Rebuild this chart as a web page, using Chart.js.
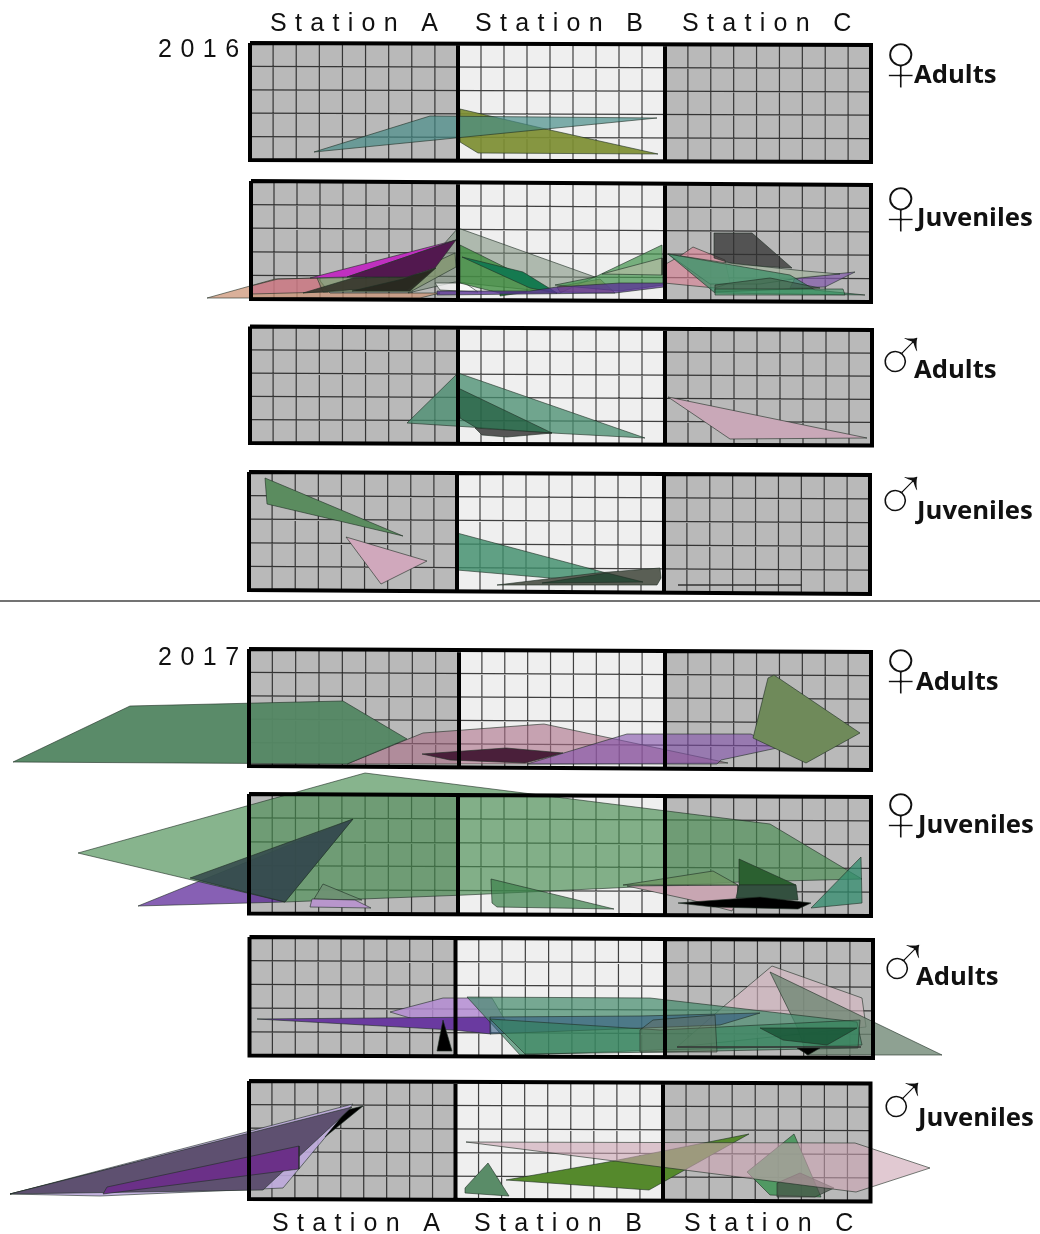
<!DOCTYPE html>
<html>
<head>
<meta charset="utf-8">
<title>Stations 2016 2017</title>
<script src="https://cdn.jsdelivr.net/npm/chart.js@4/dist/chart.umd.min.js"></script>
<style>
  html, body { margin: 0; padding: 0; background: #ffffff; }
  canvas { display: block; filter: blur(0.4px); }
</style>
</head>
<body>
<canvas id="figure" width="1040" height="1234"></canvas>
<script>
const stationLabels = ["Station A", "Station B", "Station C"];
const yearLabels = ["2016", "2017"];
const groupLabels = ["Adults", "Juveniles", "Adults", "Juveniles", "Adults", "Juveniles", "Adults", "Juveniles"];
const sexSymbols = ["♀", "♀", "♂", "♂", "♀", "♀", "♂", "♂"];

// Panel frames in figure units, the scan is slightly rotated so left and right differ.
const panelLeft = [250, 251, 250, 249, 249, 249, 249.5, 249];
const panelRight = [871, 871, 872, 870, 871, 871, 873, 870.5];
const dividerAB = [458, 458, 458, 457, 459, 458, 455.5, 455.5];
const dividerBC = [665, 665, 665, 664, 665, 665, 665, 663];
const topAtLeft = [43, 181, 326.5, 472, 649, 794, 937, 1081];
const topAtRight = [45, 185, 330, 475, 652, 797, 940, 1083.5];
const bottomAtLeft = [160, 299, 443, 590, 766, 913.5, 1055.5, 1199];
const bottomAtRight = [162, 302, 445.5, 594, 770, 916, 1058, 1201.5];

const f16Adults = [
  [[460, 109], [550, 130], [658, 154], [478, 153], [460, 142]],
  [[314, 152], [430, 116], [657, 118]],
];
const f16AdultsColors = ["rgba(125,142,50,0.92)", "rgba(70,140,135,0.68)"];

const f16Juveniles = [
  [[207, 298], [275, 279], [318, 278], [330, 293], [440, 293], [420, 298]],
  [[251, 286], [278, 279], [318, 278], [328, 292], [251, 294]],
  [[408, 293], [443, 245], [458, 228], [595, 277], [560, 293], [455, 282]],
  [[435, 283], [465, 283], [478, 292], [440, 290]],
  [[317, 278], [403, 277], [455, 253], [456, 267], [410, 292], [323, 292]],
  [[303, 293], [353, 278], [400, 277], [430, 272], [407, 290], [350, 290]],
  [[352, 291], [403, 279], [436, 268], [410, 291]],
  [[310, 278], [456, 240], [347, 277]],
  [[347, 277], [456, 240], [435, 268], [407, 277]],
  [[460, 245], [557, 293], [500, 293], [483, 289], [460, 283]],
  [[462, 257], [523, 272], [557, 293], [530, 288]],
  [[500, 293], [527, 292], [500, 296]],
  [[557, 287], [600, 279], [615, 293], [560, 292]],
  [[555, 285], [595, 277], [662, 245], [663, 285], [620, 291]],
  [[602, 274], [662, 258], [662, 275]],
  [[437, 291], [530, 291], [557, 287], [620, 283], [665, 283], [664, 287], [615, 293], [437, 295]],
  [[664, 265], [680, 256], [693, 247], [725, 260], [730, 283], [715, 288], [664, 283]],
  [[714, 233], [752, 233], [792, 268], [737, 265], [714, 258]],
  [[795, 278], [855, 272], [825, 287], [790, 288]],
  [[668, 254], [720, 262], [805, 271], [840, 274], [800, 278], [760, 284], [710, 284]],
  [[668, 254], [790, 275], [815, 290], [865, 295], [715, 293]],
  [[715, 285], [770, 278], [820, 288], [715, 292]],
  [[715, 289], [843, 289], [845, 295], [715, 295]],
];
const f16JuvenilesColors = [
  "rgba(205,150,120,0.75)", "rgba(200,100,140,0.5)", "rgba(120,140,120,0.55)", "rgba(255,255,255,0.7)",
  "rgba(130,150,110,0.75)", "rgba(55,55,45,0.92)", "rgba(40,40,32,0.95)", "#c030c0", "#52184f",
  "rgba(60,140,60,0.78)", "#157a50", "#1e8a30", "rgba(190,130,70,0.6)",
  "rgba(70,150,80,0.72)", "rgba(190,190,170,0.6)", "rgba(90,50,150,0.78)", "rgba(220,130,150,0.62)",
  "rgba(50,50,50,0.75)", "rgba(130,90,170,0.72)", "rgba(165,180,160,0.78)", "rgba(55,140,100,0.72)",
  "rgba(60,80,60,0.5)", "rgba(60,150,100,0.6)",
];

const m16Adults = [
  [[407, 423], [458, 373], [645, 438], [552, 433], [470, 427]],
  [[458, 388], [552, 433], [480, 430], [460, 418]],
  [[475, 428], [552, 433], [507, 437], [482, 435]],
  [[668, 397], [867, 438], [730, 439]],
];
const m16AdultsColors = ["rgba(70,140,110,0.75)", "rgba(30,90,60,0.7)", "#555555", "#c9a8b8"];

const m16Juveniles = [
  [[265, 478], [403, 536], [267, 504]],
  [[346, 537], [427, 561], [381, 584]],
  [[457, 533], [640, 582], [550, 578], [457, 570]],
  [[497, 585], [597, 573], [660, 568], [661, 578], [657, 585]],
  [[542, 583], [607, 573], [643, 582]],
];
const m16JuvenilesColors = ["#5b8c5f", "#d0a8bc", "rgba(60,140,105,0.8)", "#5a5f55", "#2c4a38"];
const m16JuvenilesLine = [[678, 585], [802, 585]];

const f17Adults = [
  [[347, 764], [423, 733], [544, 724], [728, 763], [529, 764]],
  [[422, 754], [506, 748], [563, 753], [525, 763], [450, 760]],
  [[527, 764], [627, 734], [751, 734], [777, 748], [721, 760], [717, 764]],
  [[13, 762], [130, 706], [343, 701], [407, 739], [347, 764]],
  [[774, 675], [860, 733], [806, 763], [753, 738], [768, 678]],
];
const f17AdultsColors = [
  "rgba(170,110,135,0.6)", "#4a1f3a", "rgba(130,80,170,0.6)", "rgba(85,135,100,0.97)", "#6f8a5a",
];

const f17Juveniles = [
  [[138, 906], [353, 819], [285, 902]],
  [[78, 853], [365, 773], [770, 824], [862, 879], [740, 882], [465, 895], [285, 902]],
  [[190, 878], [353, 819], [285, 902]],
  [[323, 884], [362, 900], [314, 899]],
  [[312, 899], [355, 900], [371, 908], [310, 907]],
  [[491, 879], [614, 909], [497, 907], [492, 903]],
  [[627, 886], [738, 885], [738, 898], [732, 911], [691, 900]],
  [[623, 885], [713, 871], [738, 885]],
  [[739, 859], [796, 885], [739, 885]],
  [[739, 885], [796, 885], [798, 900], [736, 898]],
  [[678, 903], [760, 897], [811, 903], [798, 909], [713, 907]],
  [[861, 857], [862, 903], [811, 908]],
];
const f17JuvenilesColors = [
  "rgba(70,10,140,0.65)", "rgba(70,140,80,0.65)", "rgba(50,70,75,0.85)", "rgba(110,145,115,0.9)", "#b896cc",
  "rgba(60,130,75,0.7)", "#c8a6b2", "rgba(110,150,100,0.85)", "#2b6030", "#33503f", "#000000",
  "rgba(50,140,110,0.75)",
];

const m17Adults = [
  [[390, 1012], [443, 998], [492, 998], [505, 1020], [440, 1027]],
  [[257, 1019], [490, 1017], [491, 1034], [453, 1030]],
  [[443, 1020], [452, 1051], [437, 1051]],
  [[772, 966], [862, 998], [866, 1027], [677, 1047], [723, 1007]],
  [[770, 972], [942, 1055], [807, 1055], [797, 1027]],
  [[467, 997], [650, 998], [857, 1022], [862, 1045], [660, 1050], [520, 1055]],
  [[490, 1017], [640, 1016], [760, 1013], [720, 1025], [490, 1034]],
  [[490, 1019], [660, 1030], [860, 1020], [858, 1048], [665, 1052], [525, 1054]],
  [[640, 1030], [653, 1020], [715, 1015], [717, 1052], [640, 1052]],
  [[760, 1028], [857, 1028], [827, 1045], [783, 1040]],
  [[797, 1048], [820, 1048], [808, 1055]],
];
const m17AdultsColors = [
  "rgba(180,140,210,0.85)", "#6a3aa0", "#000000", "rgba(215,185,195,0.65)", "rgba(110,135,115,0.78)",
  "rgba(70,140,110,0.72)", "rgba(50,90,130,0.6)", "rgba(50,130,90,0.6)", "rgba(110,110,90,0.35)",
  "rgba(20,80,50,0.75)", "#000000",
];
const m17AdultsLine = [[677, 1047], [861, 1047]];

const m17Juveniles = [
  [[10, 1194], [353, 1104], [283, 1188], [100, 1196]],
  [[10, 1194], [363, 1106], [325, 1137], [347, 1110]],
  [[10, 1194], [352, 1107], [263, 1190]],
  [[103, 1194], [107, 1187], [299, 1146], [299, 1169]],
  [[488, 1163], [509, 1196], [465, 1193], [465, 1188]],
  [[506, 1180], [608, 1162], [749, 1134], [649, 1190]],
  [[794, 1134], [821, 1197], [770, 1195], [747, 1172]],
  [[777, 1183], [800, 1173], [834, 1188], [815, 1197], [777, 1197]],
  [[466, 1142], [855, 1143], [930, 1168], [856, 1192]],
];
const m17JuvenilesColors = [
  "rgba(190,170,220,0.9)", "#000000", "#5e5070", "#6b3088", "#5a8c68", "#55892c", "rgba(70,150,90,0.9)",
  "rgba(70,80,70,0.7)", "rgba(205,165,180,0.6)",
];

const allShapes = [f16Adults, f16Juveniles, m16Adults, m16Juveniles, f17Adults, f17Juveniles, m17Adults, m17Juveniles];
const allColors = [
  f16AdultsColors, f16JuvenilesColors, m16AdultsColors, m16JuvenilesColors,
  f17AdultsColors, f17JuvenilesColors, m17AdultsColors, m17JuvenilesColors,
];

const toPoints = (vertices) => vertices.map(([x, y]) => ({ x, y }));
const closed = (vertices) => toPoints([...vertices, vertices[0]]);
const gap = () => ({ x: null, y: null });

// Top and bottom edge of panel p at figure position x.
const edgeY = (p, x, atLeft, atRight) => {
  const t = (x - panelLeft[p]) / (panelRight[p] - panelLeft[p]);
  return atLeft[p] + (atRight[p] - atLeft[p]) * t;
};
const topY = (p, x) => edgeY(p, x, topAtLeft, topAtRight);
const bottomY = (p, x) => edgeY(p, x, bottomAtLeft, bottomAtRight);

const stationBox = (p, x0, x1) => [
  { x: x0, y: topY(p, x0) }, { x: x1, y: topY(p, x1) },
  { x: x1, y: bottomY(p, x1) }, { x: x0, y: bottomY(p, x0) }, { x: x0, y: topY(p, x0) },
];

const filled = (data, color, border, width) => ({
  data, fill: "shape", backgroundColor: color, borderColor: border, borderWidth: width,
});
const stroked = (data, border, width) => ({
  data, fill: false, borderColor: border, borderWidth: width,
});

const gridLines = (p) => {
  const points = [gap()];
  const stops = [panelLeft[p], dividerAB[p], dividerBC[p], panelRight[p]];
  for (let s = 0; s < 3; s++) {
    for (let c = 1; c < 9; c++) {
      const x = stops[s] + ((stops[s + 1] - stops[s]) * c) / 9;
      points.push({ x, y: topY(p, x) }, { x, y: bottomY(p, x) }, gap());
    }
  }
  for (let r = 1; r < 5; r++) {
    const x0 = panelLeft[p];
    const x1 = panelRight[p];
    points.push(
      { x: x0, y: topY(p, x0) + ((bottomY(p, x0) - topY(p, x0)) * r) / 5 },
      { x: x1, y: topY(p, x1) + ((bottomY(p, x1) - topY(p, x1)) * r) / 5 },
      gap()
    );
  }
  return points;
};

const frameLines = (p) => {
  const left = panelLeft[p];
  const right = panelRight[p];
  return [
    ...stationBox(p, left, right), gap(),
    { x: dividerAB[p], y: topY(p, dividerAB[p]) }, { x: dividerAB[p], y: bottomY(p, dividerAB[p]) }, gap(),
    { x: dividerBC[p], y: topY(p, dividerBC[p]) }, { x: dividerBC[p], y: bottomY(p, dividerBC[p]) },
  ];
};

const buildDatasets = () => {
  const list = [];
  allShapes.forEach((shapes, p) => {
    list.push(filled(stationBox(p, panelLeft[p], dividerAB[p]), "#b9b9b9", "#b9b9b9", 0));
    list.push(filled(stationBox(p, dividerAB[p], dividerBC[p]), "#efefef", "#efefef", 0));
    list.push(filled(stationBox(p, dividerBC[p], panelRight[p]), "#b9b9b9", "#b9b9b9", 0));
    list.push(stroked(gridLines(p), "rgba(20,20,20,0.8)", 1.2));
  });
  allShapes.forEach((shapes, p) => {
    shapes.forEach((vertices, i) => {
      list.push(filled(closed(vertices), allColors[p][i], "rgba(30,45,35,0.6)", 1));
    });
  });
  list.push(stroked(toPoints(m16JuvenilesLine), "#333333", 1.5));
  list.push(stroked(toPoints(m17AdultsLine), "#333333", 1.5));
  allShapes.forEach((shapes, p) => list.push(stroked(frameLines(p), "#000000", 4)));
  list.push(stroked([{ x: 0, y: 601 }, { x: 1040, y: 601 }], "#444444", 1.5));
  // Chart.js paints high order first, so listing order is the painting order.
  list.forEach((d, i) => {
    d.order = list.length - i;
    d.showLine = true;
    d.pointRadius = 0;
    d.tension = 0;
    d.spanGaps = false;
    d.clip = false;
  });
  return list;
};

const stationX = [[270, 475, 682], [272, 474, 684]];
const stationBaseline = [31, 1231];
const yearBaseline = [57, 665];
const groupX = [914, 917, 914, 917, 916, 918, 916, 918];
const groupBaseline = [83, 226, 378, 519, 690, 833, 985, 1126];
const symbolX = [867.5, 867.5, 870, 870, 867.5, 867.5, 872, 871];
const symbolBaseline = [91.5, 235.5, 383, 522, 697.5, 841.5, 990, 1128];
const symbolSize = [88, 88, 82, 82, 88, 88, 82, 82];

const textPlugin = {
  id: "figureText",
  afterDraw(chart) {
    const { ctx, scales } = chart;
    const px = (v) => scales.x.getPixelForValue(v);
    const py = (v) => scales.y.getPixelForValue(v);
    ctx.save();
    ctx.fillStyle = "#111111";
    ctx.textAlign = "left";
    ctx.textBaseline = "alphabetic";

    ctx.font = '25px "Liberation Sans"';
    ctx.letterSpacing = "8.3px";
    stationX.forEach((row, r) => {
      row.forEach((x, i) => ctx.fillText(stationLabels[i], px(x), py(stationBaseline[r])));
    });
    ctx.letterSpacing = "8.5px";
    yearLabels.forEach((label, i) => ctx.fillText(label, px(158), py(yearBaseline[i])));
    ctx.letterSpacing = "0px";

    // The glyphs are heavy at this size, a white outline thins them to the drawn look.
    ctx.strokeStyle = "#ffffff";
    ctx.lineWidth = 1.5;
    ctx.lineJoin = "round";
    sexSymbols.forEach((symbol, i) => {
      ctx.font = `${symbolSize[i]}px "Liberation Sans"`;
      ctx.fillText(symbol, px(symbolX[i]), py(symbolBaseline[i]));
      ctx.strokeText(symbol, px(symbolX[i]), py(symbolBaseline[i]));
    });

    ctx.font = 'bold 25.7px "Open Sans"';
    groupLabels.forEach((label, i) => ctx.fillText(label, px(groupX[i]), py(groupBaseline[i])));
    ctx.restore();
  },
};

new Chart(document.getElementById("figure"), {
  type: "scatter",
  data: { datasets: buildDatasets() },
  plugins: [textPlugin],
  options: {
    responsive: false,
    animation: false,
    events: [],
    layout: { padding: 0 },
    plugins: { legend: { display: false }, tooltip: { enabled: false }, title: { display: false } },
    scales: {
      x: { type: "linear", min: 0, max: 1040, display: false },
      y: { type: "linear", min: 0, max: 1234, reverse: true, display: false },
    },
  },
});
</script>
</body>
</html>
